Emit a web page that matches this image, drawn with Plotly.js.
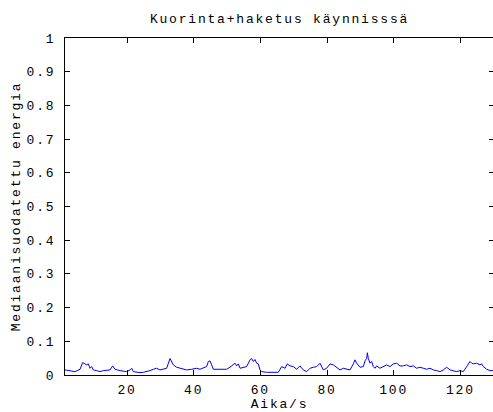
<!DOCTYPE html>
<html>
<head>
<meta charset="utf-8">
<script src="https://cdn.plot.ly/plotly-3.0.1.min.js"></script>
<style>
html, body { margin: 0; padding: 0; overflow: hidden; background: #fff; }
#chart { width: 494px; height: 412px; }
#chart svg text { letter-spacing: 1.8px; }
</style>
</head>
<body>
<div id="chart"></div>
<script>
const time = [1.4, 2.9, 4.4, 5.9, 6.7, 7.4, 7.9, 8.4, 8.9, 9.4, 9.9, 10.9, 11.9, 12.9, 13.9, 14.9, 15.7, 16.4, 17.9, 19.9,
  20.9, 21.4, 21.9, 23.9, 24.9, 25.9, 26.9, 27.9, 28.9, 29.9, 30.9, 31.9, 32.9, 33.4, 33.9, 34.9, 35.9, 36.9, 37.9, 39.4,
  40.9, 41.9, 42.9, 43.9, 44.4, 44.9, 45.4, 45.9, 47.9, 49.9, 50.9, 51.9, 52.4, 52.9, 53.4, 53.9, 54.9, 55.9, 56.9, 57.4,
  57.9, 58.4, 58.9, 59.4, 59.9, 60.4, 61.9, 63.9, 65.4, 66.4, 67.4, 68.1, 68.9, 69.9, 70.9, 71.9, 72.9, 73.9, 74.9, 75.9,
  76.9, 77.9, 78.4, 78.9, 79.9, 80.9, 81.9, 82.9, 83.9, 84.9, 85.9, 86.9, 87.9, 88.4, 88.9, 89.4, 89.9, 90.9, 91.4, 91.9,
  92.1, 92.4, 92.9, 93.4, 93.9, 94.4, 94.9, 95.9, 96.9, 97.9, 98.9, 99.9, 100.9, 101.9, 102.9, 103.9, 104.9, 105.9, 106.9, 107.9,
  108.9, 109.9, 110.9, 111.9, 112.9, 113.9, 114.9, 115.9, 116.9, 117.9, 118.9, 119.9, 120.9, 121.9, 122.9, 123.4, 123.9, 124.9, 125.9, 126.4,
  126.9, 127.9, 128.9, 129.9];
const energy = [0.015, 0.013, 0.010, 0.017, 0.037, 0.033, 0.030, 0.033, 0.020, 0.025, 0.015, 0.013, 0.010, 0.013, 0.013, 0.015, 0.027, 0.017, 0.013, 0.010,
  0.015, 0.020, 0.010, 0.007, 0.008, 0.010, 0.013, 0.017, 0.020, 0.015, 0.017, 0.020, 0.049, 0.040, 0.030, 0.023, 0.020, 0.017, 0.015, 0.017,
  0.020, 0.017, 0.020, 0.025, 0.040, 0.042, 0.030, 0.017, 0.017, 0.017, 0.023, 0.030, 0.035, 0.027, 0.033, 0.020, 0.023, 0.025, 0.045, 0.049,
  0.040, 0.046, 0.035, 0.033, 0.015, 0.010, 0.008, 0.007, 0.008, 0.025, 0.020, 0.033, 0.027, 0.025, 0.017, 0.027, 0.015, 0.010, 0.020, 0.023,
  0.025, 0.035, 0.027, 0.015, 0.020, 0.033, 0.030, 0.023, 0.015, 0.020, 0.017, 0.015, 0.033, 0.045, 0.035, 0.030, 0.023, 0.025, 0.042, 0.049,
  0.066, 0.049, 0.035, 0.040, 0.025, 0.020, 0.027, 0.020, 0.025, 0.030, 0.025, 0.033, 0.035, 0.027, 0.027, 0.030, 0.025, 0.027, 0.020, 0.023,
  0.020, 0.017, 0.020, 0.015, 0.013, 0.010, 0.015, 0.023, 0.015, 0.013, 0.010, 0.013, 0.010, 0.025, 0.040, 0.035, 0.033, 0.035, 0.030, 0.033,
  0.025, 0.017, 0.013, 0.013];
const xTicks = [20, 40, 60, 80, 100, 120];
const yTicks = [0, 0.1, 0.2, 0.3, 0.4, 0.5, 0.6, 0.7, 0.8, 0.9, 1];
const yTickText = ['0', '0.1', '0.2', '0.3', '0.4', '0.5', '0.6', '0.7', '0.8', '0.9', '1'];

const font = { family: '"Liberation Mono", "Courier New", monospace', size: 13, color: '#000' };

const trace = {
  x: time, y: energy, type: 'scatter', mode: 'lines',
  line: { color: '#0000ff', width: 1 },
  hoverinfo: 'skip'
};

const layout = {
  width: 494, height: 412,
  margin: { l: 65, r: 0, t: 38, b: 37, pad: 0 },
  paper_bgcolor: '#fff', plot_bgcolor: '#fff',
  font: font,
  showlegend: false,
  title: { text: 'Kuorinta+haketus käynnisssä', font: font, x: 0.5, xref: 'paper', xanchor: 'center', y: 1 - 18 / 412, yref: 'container', yanchor: 'middle' },
  xaxis: {
    range: [1.4, 130.1], tickvals: xTicks, ticktext: xTicks.map(String),
    ticks: 'inside', ticklen: 5, tickcolor: '#000', tickwidth: 1,
    showline: true, linecolor: '#000', linewidth: 1, mirror: 'ticks',
    showgrid: false, zeroline: false, automargin: false,
    tickfont: font, ticklabelstandoff: 2,
    title: { text: 'Aika/s', font: font, standoff: 4 }
  },
  yaxis: {
    range: [0, 1], tickvals: yTicks, ticktext: yTickText,
    ticks: 'inside', ticklen: 5, tickcolor: '#000', tickwidth: 1,
    showline: true, linecolor: '#000', linewidth: 1, mirror: 'ticks',
    showgrid: false, zeroline: false, automargin: false,
    tickfont: font, ticklabelstandoff: 6,
    title: { text: 'Mediaanisuodatettu energia', font: font, standoff: 8 }
  }
};

Plotly.newPlot('chart', [trace], layout, { staticPlot: true, displayModeBar: false });
</script>
</body>
</html>
